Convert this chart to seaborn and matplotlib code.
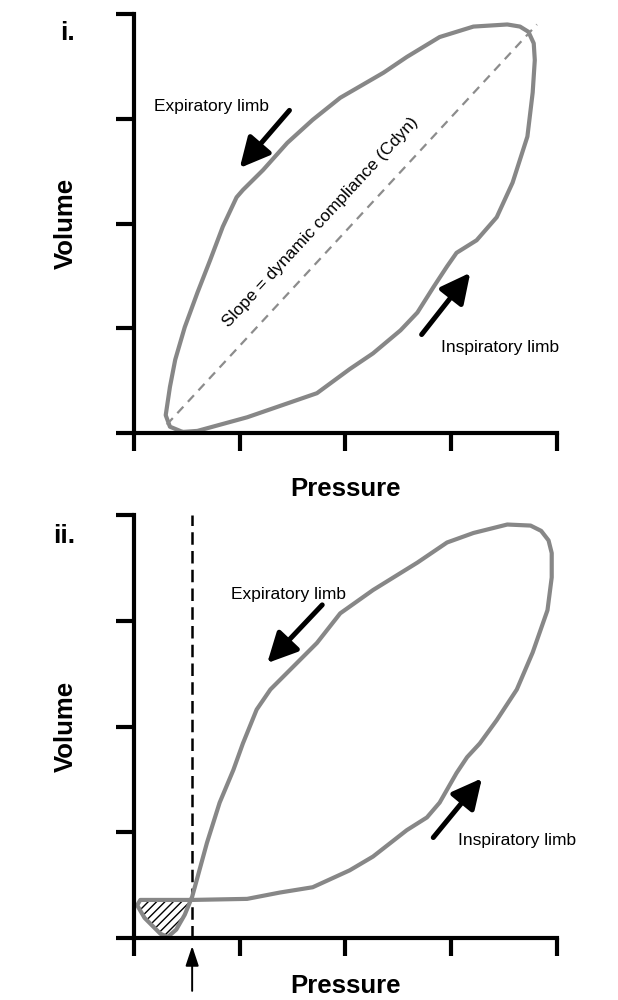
import matplotlib.pyplot as plt
import seaborn as sns

# Panel i. pressure-volume loop (arbitrary units 0-4)
top_pressure = [0.46, 0.60, 1.07, 1.73, 2.04, 2.26, 2.52, 2.68, 2.83, 2.96, 3.05, 3.24,
                3.43, 3.58, 3.72, 3.77, 3.79, 3.78, 3.73, 3.65, 3.53, 3.21, 2.89, 2.58,
                2.36, 1.95, 1.69, 1.45, 1.22, 1.03, 0.97, 0.84, 0.72, 0.60, 0.48, 0.39,
                0.34, 0.30, 0.34, 0.46]
top_volume = [0.01, 0.02, 0.15, 0.38, 0.61, 0.76, 0.98, 1.15, 1.39, 1.59, 1.72, 1.84,
              2.06, 2.39, 2.83, 3.25, 3.56, 3.72, 3.83, 3.88, 3.90, 3.88, 3.78, 3.59,
              3.44, 3.20, 2.99, 2.77, 2.51, 2.32, 2.25, 1.97, 1.65, 1.34, 1.01, 0.70,
              0.44, 0.17, 0.06, 0.01]

# dynamic compliance line (end points)
slope_pressure = [0.31, 3.81]
slope_volume = [0.08, 3.90]

# Panel ii. loop with the ineffective trigger effort at the start
bottom_pressure = [0.55, 1.07, 1.38, 1.69, 2.04, 2.26, 2.58, 2.77, 2.89, 3.05, 3.15, 3.27,
                   3.43, 3.62, 3.77, 3.91, 3.95, 3.95, 3.92, 3.85, 3.75, 3.53, 3.21, 2.96,
                   2.68, 2.26, 1.95, 1.73, 1.41, 1.29, 1.16, 1.03, 0.94, 0.81, 0.69, 0.55,
                   0.48, 0.40, 0.32, 0.25, 0.10, 0.03, 0.06, 0.55]
bottom_volume = [0.36, 0.37, 0.43, 0.48, 0.64, 0.77, 1.02, 1.14, 1.28, 1.56, 1.71, 1.84,
                 2.06, 2.35, 2.70, 3.10, 3.41, 3.64, 3.76, 3.85, 3.90, 3.91, 3.83, 3.74,
                 3.55, 3.29, 3.07, 2.79, 2.47, 2.35, 2.16, 1.84, 1.59, 1.28, 0.90, 0.39,
                 0.22, 0.08, 0.01, 0.04, 0.19, 0.31, 0.36, 0.36]

# hatched area below PEEP (small negative loop)
hatch_pressure = [0.55, 0.48, 0.40, 0.32, 0.25, 0.10, 0.03, 0.06]
hatch_volume = [0.37, 0.22, 0.08, 0.01, 0.04, 0.19, 0.31, 0.36]

trigger_pressure = 0.55
ticks = [0, 1, 2, 3, 4]

# annotation arrows: (tail, tip) and labels
top_exp_arrow = [(1.47, 3.08), (1.00, 2.53)]
top_insp_arrow = [(2.72, 0.94), (3.18, 1.53)]
bottom_exp_arrow = [(1.78, 3.15), (1.26, 2.60)]
bottom_insp_arrow = [(2.83, 0.95), (3.29, 1.51)]
top_exp_label = (0.73, 3.12)
top_insp_label = (3.46, 0.82)
bottom_exp_label = (1.46, 3.25)
bottom_insp_label = (3.62, 0.92)

sns.set_theme(style="ticks")
plt.rcParams['font.family'] = ['Liberation Sans', 'DejaVu Sans']
plt.rcParams['text.color'] = 'black'
plt.rcParams['axes.labelcolor'] = 'black'

loop_color = '#878787'
fig = plt.figure(figsize=(6.18, 10), dpi=100)
ax1 = fig.add_axes([0.2168, 0.567, 0.6845, 0.419])
ax2 = fig.add_axes([0.2168, 0.062, 0.6845, 0.423])


def style_axes(ax):
    ax.set_xlim(0, 4)
    ax.set_ylim(0, 4)
    ax.set_xticks(ticks)
    ax.set_yticks(ticks)
    ax.set_xticklabels([])
    ax.set_yticklabels([])
    ax.tick_params(length=13, width=3, color='black', direction='out')
    for side in ['top', 'right']:
        ax.spines[side].set_visible(False)
    for side in ['left', 'bottom']:
        ax.spines[side].set_linewidth(3)
        ax.spines[side].set_color('black')
    ax.set_xlabel('Pressure', fontsize=18.5, fontweight='bold', color='black')
    ax.set_ylabel('Volume', fontsize=18.5, fontweight='bold', color='black')
    ax.yaxis.set_label_coords(-0.133, 0.5)


def draw_arrow(ax, arrow):
    (x0, y0), (x1, y1) = arrow
    ax.annotate('', xy=(x1, y1), xytext=(x0, y0),
                arrowprops=dict(arrowstyle='-|>,head_length=0.9,head_width=0.45',
                                mutation_scale=20, lw=3.6, color='black',
                                shrinkA=0, shrinkB=0))


# ---- panel i ----
style_axes(ax1)
sns.lineplot(x=top_pressure, y=top_volume, ax=ax1, sort=False, estimator=None,
             color=loop_color, lw=3, solid_joinstyle='round', solid_capstyle='round')
sns.lineplot(x=slope_pressure, y=slope_volume, ax=ax1, sort=False, estimator=None,
             color='#8c8c8c', lw=1.6, linestyle=(0, (4, 3)))
ax1.text(1.76, 2.01, 'Slope = dynamic compliance (Cdyn)', rotation=47.2,
         rotation_mode='anchor', ha='center', va='center', fontsize=12.5, color='black')
draw_arrow(ax1, top_exp_arrow)
draw_arrow(ax1, top_insp_arrow)
ax1.text(*top_exp_label, 'Expiratory limb', ha='center', va='center', fontsize=12.5)
ax1.text(*top_insp_label, 'Inspiratory limb', ha='center', va='center', fontsize=12.5)
ax1.xaxis.set_label_coords(0.5, -0.105)
fig.text(0.097, 0.967, 'i.', fontsize=19, fontweight='bold', ha='left', va='center')

# ---- panel ii ----
style_axes(ax2)
ax2.fill(hatch_pressure, hatch_volume, facecolor='none', edgecolor='black',
         hatch='////', lw=0)
ax2.axvline(trigger_pressure, color='black', lw=1.8, linestyle=(0, (5, 2.5)))
sns.lineplot(x=bottom_pressure, y=bottom_volume, ax=ax2, sort=False, estimator=None,
             color=loop_color, lw=3, solid_joinstyle='round', solid_capstyle='round')
draw_arrow(ax2, bottom_exp_arrow)
draw_arrow(ax2, bottom_insp_arrow)
ax2.text(*bottom_exp_label, 'Expiratory limb', ha='center', va='center', fontsize=12.5)
ax2.text(*bottom_insp_label, 'Inspiratory limb', ha='center', va='center', fontsize=12.5)
ax2.annotate('', xy=(trigger_pressure, -0.019), xytext=(trigger_pressure, -0.125),
             xycoords=('data', 'axes fraction'), textcoords=('data', 'axes fraction'),
             arrowprops=dict(arrowstyle='-|>,head_length=0.6,head_width=0.2',
                             mutation_scale=20, lw=1.4, color='black',
                             shrinkA=0, shrinkB=0),
             annotation_clip=False)
ax2.xaxis.set_label_coords(0.5, -0.085)
fig.text(0.086, 0.464, 'ii.', fontsize=19, fontweight='bold', ha='left', va='center')

fig.savefig('out.png', dpi=100)
